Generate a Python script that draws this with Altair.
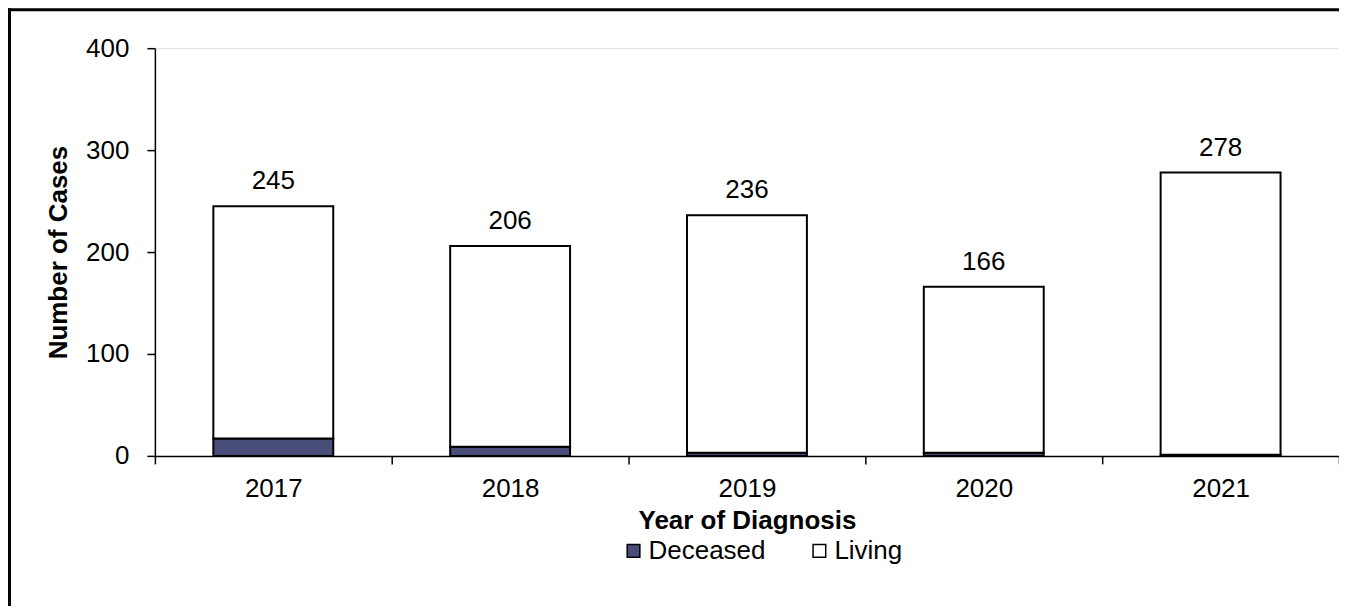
import altair as alt
import pandas as pd

years = ["2017", "2018", "2019", "2020", "2021"]
deceased = [17, 9, 3, 3, 1]
totals = [245, 206, 236, 166, 278]
living = [t - d for t, d in zip(totals, deceased)]
statuses = ["Deceased", "Living"]
colors = ["#494D7A", "#FFFFFF"]

rows = []
for y, d, l in zip(years, deceased, living):
    rows.append({"year": y, "status": "Deceased", "count": d, "ord": 0})
    rows.append({"year": y, "status": "Living", "count": l, "ord": 1})
df = pd.DataFrame(rows)
tot = pd.DataFrame({"year": years, "total": totals})

FONT = "Liberation Sans"
FS = 26

x = alt.X("year:N", title="Year of Diagnosis",
          scale=alt.Scale(paddingInner=0, paddingOuter=0),
          axis=alt.Axis(labelAngle=0, tickBand="extent", tickSize=8,
                        labelPadding=12, titlePadding=6, labelFontSize=FS,
                        titleFontSize=FS, titleFontWeight="bold",
                        domainColor="black", tickColor="black",
                        labelColor="black", titleColor="black",
                        domainWidth=1.5, tickWidth=1.5, labelFont=FONT,
                        titleFont=FONT))

bars = alt.Chart(df).mark_bar(size=120, stroke="black", strokeWidth=2).encode(
    x=x,
    y=alt.Y("count:Q", stack="zero", title="Number of Cases",
            scale=alt.Scale(domain=[0, 400]),
            axis=alt.Axis(values=[0, 100, 200, 300, 400], grid=False,
                          tickSize=8, labelPadding=18, labelFontSize=FS,
                          titleFontSize=FS, titleFontWeight="bold",
                          titlePadding=14,
                          domainColor="black", tickColor="black",
                          labelColor="black", titleColor="black",
                          domainWidth=1.5, tickWidth=1.5, labelFont=FONT,
                          titleFont=FONT)),
    color=alt.Color("status:N", scale=alt.Scale(domain=statuses, range=colors),
                    legend=alt.Legend(title=None, orient="none", legendX=466,
                                      legendY=490, direction="horizontal",
                                      symbolType="square", symbolSize=160,
                                      symbolStrokeColor="black",
                                      symbolStrokeWidth=1.5,
                                      labelFontSize=FS, labelFont=FONT,
                                      labelColor="black", columnPadding=40,
                                      labelOffset=2)),
    order=alt.Order("ord:Q"),
)

labels = alt.Chart(tot).mark_text(fontSize=FS, font=FONT, color="black",
                                  baseline="bottom", dy=-12).encode(
    x="year:N", y="total:Q", text="total:Q")

frame = pd.DataFrame({"a": [0]})
top_rule = alt.Chart(frame).mark_rule(color="black", strokeWidth=3).encode(
    x=alt.value(-147), x2=alt.value(1200), y=alt.value(-38.5))
left_rule = alt.Chart(frame).mark_rule(color="black", strokeWidth=3).encode(
    x=alt.value(-145.5), y=alt.value(-40), y2=alt.value(570))

chart = alt.layer(bars, labels, top_rule, left_rule).properties(
    width=1185, height=408,
    autosize=alt.AutoSizeParams(type="none"),
    padding={"left": 147, "top": 40, "right": 0, "bottom": 150},
).configure_view(stroke=None).configure(font=FONT)

chart.save("out.html", embed_options={"renderer": "svg", "actions": False})
